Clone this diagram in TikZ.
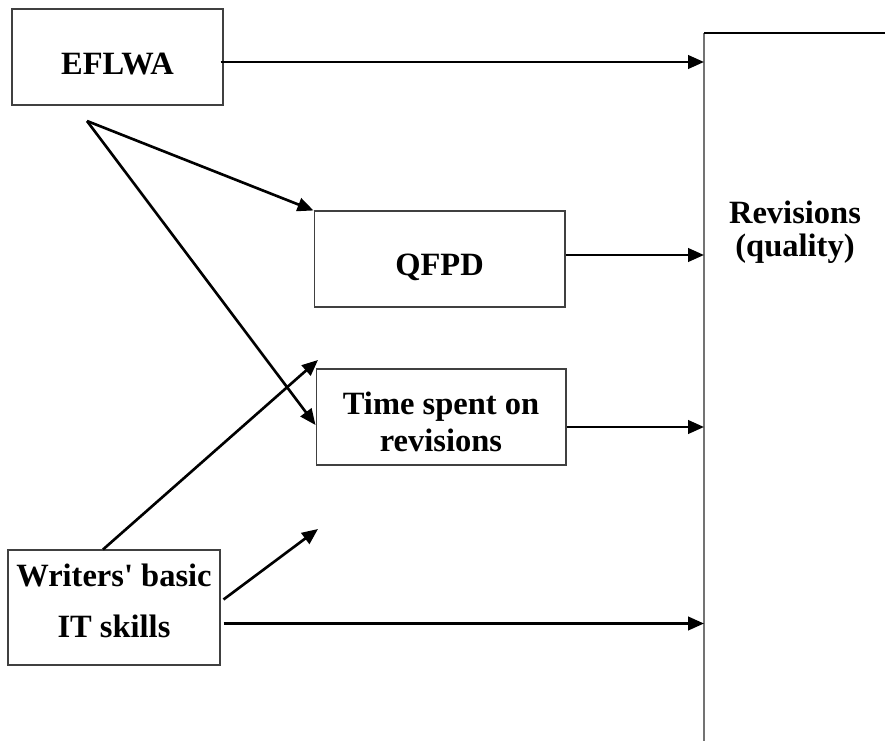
\documentclass[tikz,border=0pt]{standalone}
\usepackage{fontspec}
\setmainfont{Liberation Serif}
\usetikzlibrary{arrows.meta,calc}

\tikzset{
  factor/.style={draw=black!75,line width=0.6pt,rectangle,align=center,
    font=\fontsize{18.5}{21}\selectfont\bfseries,inner sep=0pt},
  link/.style={line width=1.5pt,-{Triangle[length=0.32cm,width=0.27cm]}},
}
\newcommand{\boxtext}[2]{\raisebox{#1}[\height][\depth]{\begin{tabular}{@{}c@{}}#2\end{tabular}}}

\begin{document}
\begin{tikzpicture}[x=0.02cm,y=-0.02cm]
  \useasboundingbox (0,0) rectangle (885,740);
  \clip (0,0) rectangle (885,740);
  % factors
  \node[factor,minimum width=4.22cm,minimum height=1.92cm] (eflwa) at (117.5,57) {\boxtext{-6pt}{EFLWA}};
  \node[factor,minimum width=5.02cm,minimum height=1.92cm] (qfpd) at (439.5,259) {\boxtext{-5pt}{QFPD}};
  \node[factor,minimum width=5.0cm,minimum height=1.92cm] (time) at (441,417) {\boxtext{-5pt}{Time spent on\\[0pt]revisions}};
  \node[factor,minimum width=4.24cm,minimum height=2.3cm] (writers) at (114,607.5) {\boxtext{1.7pt}{Writers\textquotesingle\ basic\\[8pt]IT skills}};
  % outcome, cut off by the page
  \node[anchor=north west,minimum width=6cm,minimum height=16cm] (rev) at (704,33) {};
  \draw[black!55,line width=0.9pt] (rev.south west) -- (rev.north west);
  \draw[line width=0.9pt] (rev.north west) -- (rev.north east);
  \node[factor,draw=none] (revlabel) at (795,231) {\boxtext{-1pt}{Revisions\\[-2pt](quality)}};
  \coordinate (fork) at (87,121);
  \coordinate (tipa) at (318,360);
  \coordinate (tipb) at (318,529);
  \coordinate (ea) at ($(eflwa.east)+(-3,5)$);
  \coordinate (qa) at ($(qfpd.east)+(0,-4)$);
  \coordinate (ta) at ($(time.east)+(0,10)$);
  \coordinate (wa) at ($(writers.east)+(3,16)$);
  % paths
  \draw[link] (ea) -- (ea -| rev.west);
  \draw[link] (fork) -- (qfpd.north west);
  \draw[link] (fork) -- ($(time.west)+(0,8)$);
  \draw[link] (qa) -- (qa -| rev.west);
  \draw[link] (ta) -- (ta -| rev.west);
  \draw[link] ($(writers.north)+(-11,0)$) -- (tipa);
  \draw[link] ($(writers.east)+(3,-8)$) -- (tipb);
  \draw[link] (wa) -- (wa -| rev.west);
\end{tikzpicture}
\end{document}
